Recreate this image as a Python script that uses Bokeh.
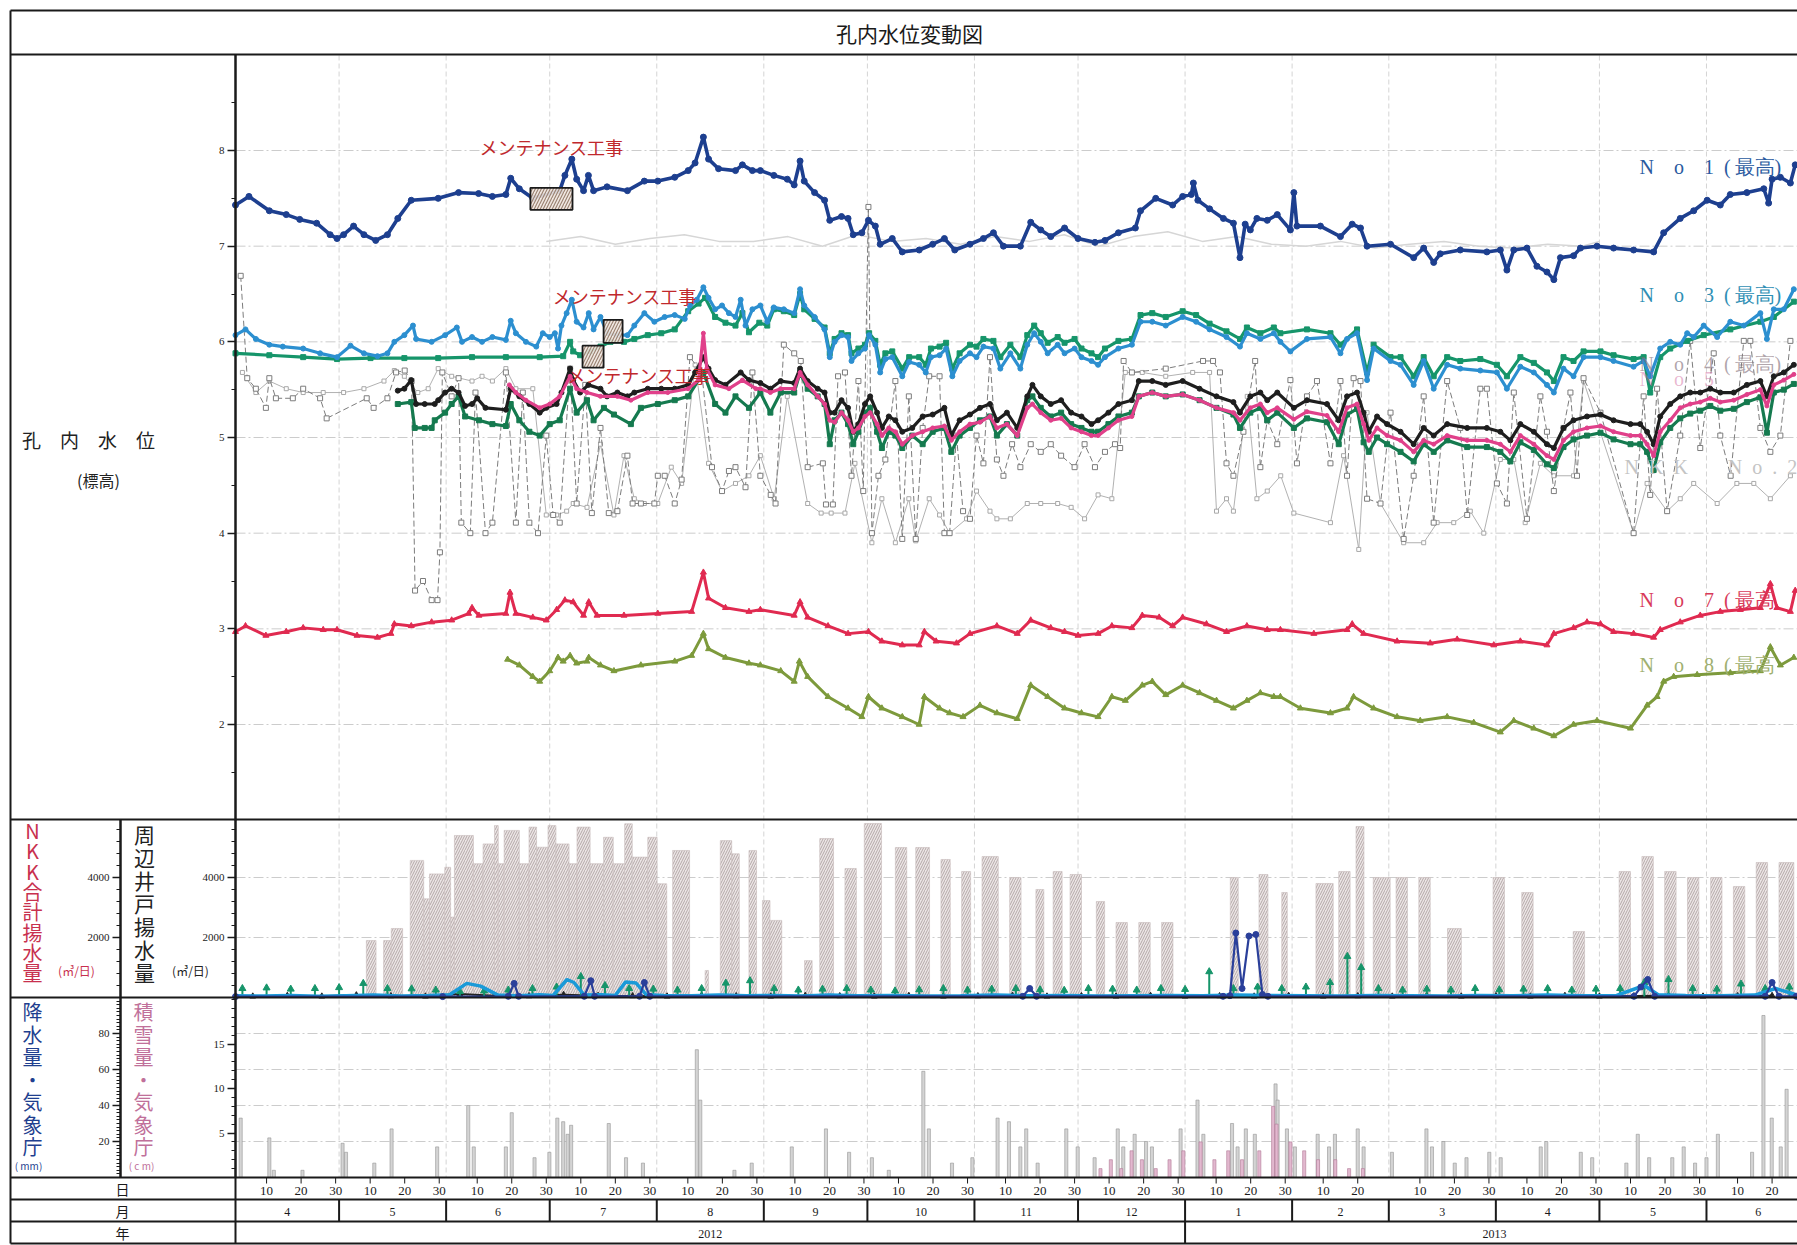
from bokeh.plotting import figure
from bokeh.models import Range1d, LinearAxis, FixedTicker
from bokeh.embed import file_html
from bokeh.resources import INLINE
from bokeh.core.properties import value

# ------------------------------------------------------------------ data
# x = days since 2012-04-01
MONTHS = [4, 5, 6, 7, 8, 9, 10, 11, 12, 1, 2, 3, 4, 5, 6]
MONTH_DAYS = [30, 31, 30, 31, 31, 30, 31, 30, 31, 31, 28, 31, 30, 31, 30]
YEAR_LABELS = ["2012", "2013"]
YEAR_POS = [137.5, 364.6]
DAY_TICKS = [10, 20, 30]

NO1 = [(0,7.43),(3.9,7.52),(9.8,7.37),(14.7,7.33),(18.6,7.28),(23.5,7.24),(27.4,7.12),(29.4,7.08),(31.3,7.12),(34.2,7.21),
       (37.2,7.12),(40.6,7.06),(44,7.12),(47,7.29),(50.9,7.48),(58.7,7.5),(64.6,7.56),(70.4,7.55),(74.4,7.52),(78.3,7.54),
       (79.7,7.71),(82.2,7.6),(86.1,7.5),(93.9,7.58),(95.4,7.74),(97.4,7.91),(98.8,7.7),(100.8,7.58),(102.2,7.74),(103.7,7.58),
       (107.6,7.62),(113.5,7.58),(118.4,7.68),(122.3,7.68),(127.2,7.72),(131.1,7.79),(133.1,7.87),(135.5,8.14),(137,7.91),(139.9,7.81),
       (144.8,7.79),(146.8,7.85),(149.7,7.79),(152,7.79),(155.9,7.74),(159.8,7.7),(161.8,7.64),(163.5,7.89),(164.7,7.68),(167.7,7.56),
       (170.6,7.48),(172.1,7.27),(175.5,7.31),(177.4,7.29),(178.9,7.12),(181.4,7.14),(183.3,7.27),(185.3,7.21),(186.7,7.02),(190.2,7.08),
       (193.1,6.94),(198,6.96),(201.9,7.02),(205.3,7.08),(208.3,6.96),(212.7,7.02),(216.6,7.08),(219.5,7.14),(222.4,7.0),(227.3,7.0),
       (230.3,7.25),(233.2,7.17),(236.1,7.1),(240.1,7.19),(244,7.08),(248.9,7.04),(251.8,7.06),(255.7,7.14),(260.6,7.19),(262.1,7.37),
       (266.5,7.5),(271.4,7.43),(274.3,7.52),(276.8,7.54),(277.4,7.66),(278.7,7.48),(282.1,7.39),(286.1,7.29),(289,7.24),(290.9,6.88),
       (292.4,7.23),(293.9,7.17),(295.8,7.29),(298.8,7.27),(301.7,7.33),(305.5,7.17),(306.5,7.56),(307.4,7.21),(314.2,7.21),(320,7.1),
       (323.4,7.23),(325.8,7.19),(327.7,7.0),(334.5,7.02),(341.2,6.88),(344.1,6.98),(347,6.83),(348.9,6.92),(354.7,6.96),(362.4,6.94),
       (366.3,6.96),(368.2,6.75),(370.2,6.96),(374,6.98),(376.9,6.79),(379.8,6.73),(381.8,6.65),(383.7,6.88),(387.5,6.9),(389.5,6.98),
       (394.3,7.0),(399.1,6.98),(404.9,6.96),(410.7,6.94),(413.6,7.14),(418.4,7.29),(422.3,7.37),(426.2,7.48),(430,7.43),(432.9,7.54),
       (437.7,7.56),(442.6,7.6),(444,7.45),(445,7.7),(447.4,7.72),(450.3,7.66),(451.7,7.85)]

NO3 = [(0,6.07),(2.9,6.13),(5.9,6.03),(9.8,5.97),(13.7,5.95),(19.6,5.93),(24.5,5.88),(29.4,5.84),(33.3,5.96),(37.2,5.88),
       (41.1,5.85),(44,5.88),(46,6.0),(48.9,6.07),(51.4,6.17),(52.3,6.03),(56.8,6.0),(60.7,6.07),(64.1,6.15),(65.6,6.0),
       (68.5,6.05),(71.4,6.0),(74.4,6.05),(78.3,6.02),(79.7,6.22),(81.2,6.09),(84.1,6.0),(87.1,5.95),(89,6.09),(91,6.05),
       (92.5,6.09),(93.4,5.93),(94.4,6.17),(95.9,6.3),(97.4,6.44),(98.8,6.21),(100.8,6.15),(102.3,6.3),(103.7,6.13),(105.7,6.26),
       (107.6,6.09),(110.6,6.07),(113.5,6.07),(115.5,6.17),(118.4,6.3),(121.3,6.21),(124.3,6.26),(127.2,6.28),(130.1,6.24),(131.6,6.38),
       (133.6,6.44),(135.5,6.57),(137,6.46),(138.9,6.34),(140.9,6.38),(142.9,6.3),(144.8,6.26),(146.3,6.44),(147.7,6.17),(149.7,6.34),
       (152,6.38),(154,6.21),(155.9,6.36),(158.8,6.34),(161.8,6.3),(163.5,6.55),(164.7,6.38),(167.7,6.26),(170.6,6.13),(172.1,5.84),
       (173.5,6.0),(175.5,6.07),(177.4,6.05),(178.4,5.8),(180.4,5.88),(182.3,5.93),(183.5,6.07),(185.3,5.97),(186.7,5.68),(188.2,5.82),
       (190.2,5.84),(193.1,5.64),(195.1,5.79),(198,5.76),(199.9,5.68),(201.4,5.84),(203.9,5.86),(205.8,5.93),(207.6,5.64),(209.7,5.8),
       (212.7,5.88),(214.6,5.84),(216.6,5.95),(219.5,5.93),(221.5,5.72),(224.4,5.88),(227.3,5.72),(229.3,5.97),(231.3,6.09),(233.2,6.0),
       (235.2,5.88),(238.1,5.97),(240.1,5.88),(243,5.93),(245,5.84),(247.9,5.8),(249.8,5.76),(251.8,5.84),(255.7,5.93),(259.6,5.97),
       (262.1,6.21),(265.5,6.21),(269.4,6.17),(274.3,6.26),(278.2,6.21),(282.1,6.13),(287,6.05),(290.9,5.95),(292.9,6.09),(296.8,6.03),
       (300.7,6.09),(302.6,6.0),(305.5,5.9),(310.3,6.03),(317.1,6.05),(320,5.88),(321.9,6.03),(324.8,6.09),(327.7,5.6),(329.6,5.93),
       (334.5,5.8),(337.4,5.76),(341.2,5.55),(344.1,5.8),(347,5.51),(350.9,5.76),(354.7,5.72),(360.5,5.7),(365.3,5.68),(368.2,5.51),
       (372.1,5.74),(376,5.68),(379.8,5.55),(381.8,5.47),(384.6,5.72),(387.5,5.64),(390.4,5.84),(395.3,5.84),(399.1,5.8),(404.9,5.74),
       (407.8,5.8),(409.7,5.64),(412.6,5.93),(415.5,6.0),(418.4,5.97),(420.4,6.09),(422.3,6.05),(425.2,6.17),(429.1,6.05),(432.9,6.21),
       (436.8,6.17),(441.6,6.3),(443.5,6.03),(445.5,6.34),(448.4,6.34),(451.3,6.55)]

NO2 = [(0,5.88),(9.8,5.86),(19.6,5.84),(29.4,5.82),(39.1,5.83),(48.9,5.83),(58.7,5.83),(68.5,5.84),(78.3,5.84),(88.1,5.84),
       (94.9,5.85),(96.9,6.0),(97.8,5.9),(99.8,5.86),(102.7,5.9),(105.7,5.95),(108.6,6.0),(112.5,6.0),(115.5,6.03),(119.4,6.07),
       (123.3,6.09),(127.2,6.13),(131.1,6.32),(134.1,6.4),(136,6.46),(138.9,6.26),(141.9,6.2),(144.8,6.17),(146.8,6.3),(148.7,6.1),
       (151.7,6.2),(154,6.17),(155.9,6.34),(158.8,6.32),(161.8,6.28),(163.5,6.5),(164.7,6.34),(167.7,6.24),(170.6,6.15),(172.1,5.88),
       (173.5,6.03),(175.5,6.09),(177.4,6.07),(178.4,5.88),(180.4,5.93),(182.3,5.97),(183.5,6.09),(185.3,6.01),(186.7,5.76),(188.2,5.88),
       (190.2,5.9),(193.1,5.72),(195.1,5.84),(198,5.84),(199.9,5.76),(201.4,5.93),(203.9,5.95),(205.8,5.99),(207.6,5.72),(209.7,5.88),
       (212.7,5.97),(214.6,5.95),(216.6,6.03),(219.5,6.01),(221.5,5.84),(224.4,5.97),(227.3,5.84),(229.3,6.07),(231.3,6.17),(233.2,6.09),
       (235.2,5.99),(238.1,6.05),(240.1,5.99),(243,6.03),(245,5.93),(247.9,5.88),(249.8,5.84),(251.8,5.93),(255.7,6.01),(259.6,6.03),
       (262.1,6.28),(265.5,6.3),(269.4,6.26),(274.3,6.32),(278.2,6.28),(282.1,6.19),(287,6.11),(290.9,6.03),(292.9,6.15),(296.8,6.09),
       (300.7,6.15),(302.6,6.09),(310.3,6.13),(317.1,6.09),(320,5.97),(324.8,6.13),(327.7,5.68),(329.6,5.97),(334.5,5.84),(337.4,5.84),
       (341.2,5.64),(344.1,5.84),(347,5.64),(350.9,5.84),(354.7,5.8),(360.5,5.82),(365.3,5.76),(368.2,5.64),(372.1,5.84),(376,5.78),
       (379.8,5.68),(381.8,5.59),(384.6,5.84),(387.5,5.8),(390.4,5.9),(395.3,5.9),(399.1,5.86),(404.9,5.82),(407.8,5.84),(409.7,5.47),
       (412.6,5.84),(415.5,5.93),(420.4,6.01),(425.2,6.07),(432.9,6.13),(441.6,6.21),(445.5,6.26),(451.3,6.42)]

NO4 = [(47,5.49),(48.9,5.51),(50.9,5.6),(52.3,5.35),(54.8,5.35),(57.7,5.35),(58.7,5.39),(60.7,5.47),(62.6,5.51),(64.6,5.47),
       (66.5,5.33),(68.5,5.35),(70,5.41),(72.4,5.31),(78.3,5.29),(79.7,5.51),(82.2,5.43),(85.1,5.35),(88.1,5.26),(90,5.31),
       (93,5.35),(94.4,5.47),(96.9,5.72),(97.8,5.6),(99.8,5.47),(102.2,5.55),(105.7,5.51),(107.6,5.43),(110.6,5.47),(113.5,5.43),
       (115.5,5.47),(119.4,5.51),(123.3,5.51),(127.2,5.51),(131.1,5.55),(133.1,5.68),(135.5,5.84),(137,5.72),(138.9,5.6),(141.9,5.55),
       (146.3,5.68),(148.7,5.6),(152,5.57),(154.9,5.51),(157.9,5.59),(161.8,5.57),(163.5,5.72),(165.7,5.59),(168.6,5.51),(170.6,5.47),
       (172.1,5.26),(173.5,5.26),(175.5,5.39),(177.4,5.31),(178.9,5.06),(180.4,5.14),(182.3,5.35),(183.8,5.43),(185.8,5.26),(187.2,5.1),
       (189.2,5.22),(191.1,5.18),(193.1,5.06),(196,5.1),(199,5.22),(201.9,5.24),(205.3,5.31),(207.3,5.02),(209.7,5.18),(212.7,5.24),
       (215.6,5.31),(218.5,5.35),(220.5,5.18),(223.4,5.26),(226.4,5.1),(229.3,5.43),(230.8,5.55),(233.2,5.43),(236.1,5.35),(239.1,5.39),
       (242,5.26),(245,5.22),(247.9,5.14),(249.8,5.18),(252.8,5.26),(255.7,5.35),(259.6,5.39),(261.6,5.59),(265.5,5.59),(269.4,5.55),
       (274.3,5.59),(279.2,5.51),(284.1,5.43),(289,5.37),(290.9,5.26),(293.9,5.43),(296.8,5.47),(298.8,5.39),(301.7,5.47),(306.5,5.31),
       (310.3,5.39),(316.1,5.35),(319.5,5.18),(321.9,5.43),(324.8,5.47),(326.7,5.26),(328.2,5.06),(330.6,5.22),(333.5,5.14),(337.4,5.06),
       (341.2,4.93),(344.1,5.1),(347,5.02),(350.9,5.14),(356.7,5.1),(362.4,5.1),(366.3,5.06),(369.2,4.97),(372.1,5.14),(376,5.06),
       (379.8,4.93),(381.8,4.89),(384.6,5.1),(387.5,5.18),(391.4,5.22),(395.3,5.24),(399.1,5.18),(404,5.14),(406.8,5.14),(408.8,5.06),
       (410.7,4.93),(412.6,5.22),(415.5,5.35),(418.4,5.43),(421.3,5.47),(424.2,5.47),(427.1,5.51),(430,5.47),(433.9,5.47),(437.7,5.55),
       (441.6,5.59),(443.5,5.43),(445.5,5.64),(448.4,5.68),(451.3,5.76)]

NO5 = [(79.3,5.55),(81.2,5.47),(84.1,5.39),(88.1,5.31),(91,5.35),(93.9,5.43),(96.9,5.64),(98.8,5.51),(101.8,5.47),(105.7,5.43),
       (110.6,5.43),(114.5,5.39),(119.4,5.47),(125.2,5.47),(131.1,5.51),(134.1,5.6),(135.5,6.09),(136.5,5.72),(138.9,5.55),(142.9,5.51),
       (146.8,5.6),(150.7,5.51),(152,5.51),(154.9,5.47),(157.9,5.51),(161.8,5.51),(163.5,5.68),(165.7,5.55),(168.6,5.43),(170.6,5.35),
       (172.1,5.18),(173.5,5.16),(175.5,5.26),(177.4,5.18),(178.9,5.06),(180.4,5.1),(182.3,5.22),(183.8,5.26),(185.8,5.14),(187.2,5.02),
       (189.2,5.1),(191.1,5.06),(193.1,4.93),(196,5.02),(199,5.06),(201.9,5.1),(205.3,5.12),(207.3,4.97),(209.7,5.06),(212.7,5.14),
       (215.6,5.16),(218.5,5.22),(220.5,5.1),(223.4,5.14),(226.4,5.02),(229.3,5.31),(230.8,5.35),(233.2,5.26),(236.1,5.18),(239.1,5.2),
       (242,5.1),(245,5.06),(247.9,5.02),(249.8,5.02),(252.8,5.1),(255.7,5.18),(259.6,5.22),(261.6,5.43),(265.5,5.47),(269.4,5.43),
       (274.3,5.45),(279.2,5.39),(284.1,5.31),(289,5.26),(290.9,5.18),(293.9,5.31),(296.8,5.35),(298.8,5.26),(301.7,5.31),(306.5,5.19),
       (310.3,5.27),(316.1,5.23),(319.5,5.06),(321.9,5.31),(324.8,5.35),(326.7,5.14),(328.2,4.97),(330.6,5.1),(333.5,5.02),(337.4,4.97),
       (341.2,4.85),(344.1,4.97),(347,4.93),(350.9,5.02),(356.7,4.97),(362.4,4.97),(366.3,4.93),(369.2,4.85),(372.1,5.02),(376,4.93),
       (379.8,4.81),(381.8,4.77),(384.6,4.97),(387.5,5.06),(391.4,5.1),(395.3,5.12),(399.1,5.06),(404,5.02),(406.8,5.02),(408.8,4.93),
       (410.7,4.81),(412.6,5.06),(415.5,5.18),(418.4,5.31),(421.3,5.35),(424.2,5.37),(427.1,5.41),(430,5.37),(433.9,5.39),(437.7,5.45),
       (441.6,5.5),(443.5,5.33),(445.5,5.55),(448.4,5.6),(451.3,5.66)]

NO6 = [(47,5.35),(50.9,5.37),(51.9,5.1),(54.8,5.1),(56.8,5.1),(57.7,5.18),(60.7,5.26),(62.6,5.35),(64.6,5.43),(66.5,5.22),
       (70.5,5.18),(74.4,5.14),(78.3,5.12),(79.7,5.35),(82.2,5.18),(85.1,5.06),(88.1,5.02),(91,5.14),(93.9,5.18),(96.9,5.51),
       (98.8,5.26),(101.8,5.39),(103.7,5.18),(106.7,5.31),(109.6,5.24),(114.5,5.14),(117.4,5.31),(122.3,5.35),(127.2,5.39),(131.1,5.43),
       (135.5,5.68),(138.9,5.35),(141.9,5.26),(144.8,5.43),(148.7,5.31),(152,5.47),(154.9,5.26),(157.9,5.47),(161.8,5.47),(163.5,5.68),
       (165.7,5.51),(168.6,5.43),(170.6,5.35),(172.1,4.93),(173.5,5.18),(175.5,5.26),(177.4,5.14),(178.9,4.93),(180.4,5.06),(182.3,5.26),
       (183.8,5.31),(185.8,5.06),(187.2,4.89),(189.2,5.06),(191.1,5.02),(193.1,4.89),(196,5.02),(199,4.93),(201.9,5.06),(205.3,5.1),
       (207.3,4.85),(209.7,5.02),(212.7,5.1),(215.6,5.18),(218.5,5.22),(220.5,5.02),(223.4,5.14),(226.4,5.02),(229.3,5.39),(230.8,5.43),
       (233.2,5.31),(236.1,5.22),(239.1,5.26),(242,5.14),(245,5.1),(247.9,5.06),(249.8,5.06),(252.8,5.14),(255.7,5.22),(259.6,5.26),
       (261.6,5.43),(265.5,5.47),(269.4,5.43),(274.3,5.45),(279.2,5.39),(284.1,5.31),(289,5.24),(290.9,5.1),(293.9,5.26),(296.8,5.31),
       (298.8,5.18),(301.7,5.26),(306.5,5.1),(310.3,5.2),(316.1,5.16),(319.5,4.93),(321.9,5.24),(324.8,5.3),(326.7,4.95),(328.2,4.85),
       (330.6,5.0),(333.5,4.93),(337.4,4.85),(341.2,4.75),(344.1,4.93),(347,4.85),(350.9,4.97),(356.7,4.9),(362.4,4.9),(366.3,4.85),
       (369.2,4.75),(372.1,4.95),(376,4.87),(379.8,4.72),(381.8,4.68),(384.6,4.9),(387.5,4.98),(391.4,5.02),(395.3,5.05),(399.1,4.98),
       (404,4.93),(406.8,4.93),(408.8,4.85),(410.7,4.66),(412.6,4.95),(415.5,5.1),(418.4,5.2),(421.3,5.25),(424.2,5.28),(427.1,5.33),
       (430,5.28),(433.9,5.3),(437.7,5.37),(441.6,5.42),(443.5,5.05),(445.5,5.47),(448.4,5.5),(451.3,5.56)]

NO7 = [(0,2.97),(2.9,3.03),(8.8,2.93),(14.7,2.97),(19.6,3.01),(25.4,2.99),(29.4,2.99),(35.2,2.93),(41.1,2.91),(45,2.95),
       (46,3.05),(50.9,3.03),(56.8,3.07),(62.6,3.09),(67.5,3.16),(68.5,3.22),(70.5,3.14),(78.3,3.16),(79.5,3.38),(81.2,3.16),
       (86.1,3.12),(90,3.09),(93,3.2),(95.4,3.3),(97.8,3.28),(100.8,3.14),(102.3,3.28),(104.7,3.14),(112.5,3.14),(122.3,3.16),
       (132.1,3.18),(135.5,3.59),(137,3.32),(141.9,3.22),(148.7,3.18),(152,3.2),(161.8,3.14),(163.5,3.28),(165.7,3.12),(171.6,3.03),
       (177.4,2.95),(183.3,2.97),(187.2,2.87),(193.1,2.83),(198,2.83),(199.5,2.97),(202.9,2.87),(208.8,2.85),(212.7,2.95),(220.5,3.03),
       (226.4,2.95),(230.3,3.09),(236.1,3.01),(240.1,2.97),(244,2.93),(249.8,2.95),(253.8,3.03),(259.6,3.01),(262.6,3.14),(267.5,3.12),
       (271.4,3.03),(274.3,3.12),(281.2,3.05),(287,2.97),(292.9,3.03),(298.8,2.99),(302.6,2.99),(312.3,2.95),(321.9,2.99),(323.4,3.05),
       (326.7,2.95),(336.4,2.87),(346,2.85),(353.8,2.89),(364.4,2.83),(372.1,2.87),(379.8,2.83),(381.8,2.95),(387.5,3.01),(391.4,3.07),
       (395.3,3.05),(399.1,2.97),(404.9,2.95),(410.7,2.91),(412.6,2.99),(418.4,3.07),(424.2,3.14),(430,3.18),(435.8,3.2),(441.6,3.22),
       (444.5,3.47),(446.4,3.22),(450.3,3.18),(451.7,3.4)]

NO8 = [(78.8,2.68),(82.2,2.62),(86.1,2.5),(88.1,2.45),(91,2.56),(93.4,2.7),(94.9,2.66),(96.9,2.72),(98.8,2.64),(101.8,2.66),
       (102.3,2.7),(105.7,2.62),(109.6,2.56),(117.4,2.62),(127.2,2.66),(132.1,2.72),(135.5,2.95),(137,2.79),(141.9,2.7),(148.7,2.64),
       (152,2.62),(157.9,2.56),(161.8,2.45),(163.3,2.66),(165.7,2.5),(171.6,2.29),(177.4,2.17),(181.4,2.08),(183.3,2.29),(187.2,2.17),
       (193.1,2.08),(198,2.0),(199.5,2.29),(203.9,2.17),(206.8,2.12),(210.7,2.08),(215.6,2.2),(220.5,2.12),(226.4,2.06),(230.3,2.41),
       (235.2,2.29),(240.1,2.17),(245,2.12),(249.8,2.08),(253.8,2.29),(257.7,2.25),(262.6,2.41),(265.5,2.45),(269.4,2.31),(274.3,2.41),
       (279.2,2.33),(284.1,2.25),(289,2.17),(292.9,2.25),(296.8,2.33),(300.7,2.29),(302.6,2.29),(308.4,2.17),(317.1,2.12),(321.9,2.17),
       (323.8,2.29),(329.6,2.17),(336.4,2.08),(343.1,2.04),(350.9,2.08),(358.6,2.02),(366.3,1.92),(370.2,2.04),(376,1.96),(381.8,1.88),
       (387.5,2.0),(394.3,2.04),(404,1.96),(408.8,2.2),(411.7,2.29),(413.6,2.45),(416.5,2.5),(423.3,2.52),(432.9,2.54),(441.6,2.56),
       (444.5,2.81),(447.4,2.62),(451.3,2.7)]

NKK1 = [(1.5,6.69),(3.4,5.62),(5.9,5.51),(8.8,5.31),(9.8,5.62),(11.7,5.41),(16.6,5.41),(19.6,5.51),(24.5,5.41),(26.4,5.2),
        (38,5.41),(40,5.31),(44,5.41),(46.5,5.68),(49,5.7),(51,5.59),(52,3.4),(54.3,3.5),(56.8,3.3),(58.5,3.3),
        (59.2,3.8),(59.9,5.68),(62.6,5.43),(64.6,5.62),(65.4,4.11),(68,4.0),(69.5,5.47),(72.4,4.0),(74.4,4.11),(78.3,5.68),
        (81.2,4.11),(83.2,5.47),(85.1,4.11),(87.6,4.0),(90,5.02),(92,4.19),(93.9,4.11),(96.9,5.72),(98.8,4.31),(101.3,5.55),
        (103.2,4.21),(105.7,5.1),(108.1,4.21),(110.6,4.23),(113.5,4.81),(115,4.31),(117.4,4.31),(121.3,4.31),(122.3,4.6),(124.3,4.6),
        (127.2,4.31),(129.2,4.56),(131.6,5.84),(135,5.68),(138,4.69),(140.9,4.44),(142.9,4.65),(144.8,4.69),(147.7,4.48),(149.7,5.68),
        (152,4.6),(155,4.4),(156.4,4.31),(158.8,5.97),(161.8,5.88),(163.7,5.8),(165.7,4.69),(170.1,4.73),(171,4.3),(173,4.3),
        (174.5,5.64),(176.5,5.68),(178.4,4.6),(180.4,5.59),(181.8,4.44),(183.3,7.41),(184.3,4.0),(186.2,4.6),(188.2,4.77),(191.1,5.59),
        (193.1,3.94),(195,5.43),(197,3.94),(199,5.1),(200.9,5.64),(203.9,5.64),(205.3,4.0),(206.8,4.0),(208.8,5.02),(210.7,4.23),
        (212.7,4.15),(214.6,5.02),(216.6,4.73),(218.5,5.84),(220.5,4.77),(222.4,4.6),(224.9,4.93),(227.3,4.69),(230.3,4.93),(233.2,4.85),
        (236.1,4.93),(239.1,4.81),(243,4.69),(245.9,4.93),(248.9,4.69),(251.8,4.85),(254.7,4.93),(256.2,4.89),(257.2,5.8),(259.6,5.68),
        (269.4,5.72),(280.2,5.8),(283.1,5.8),(285.1,5.68),(287,4.73),(289,4.6),(291.9,5.06),(295.3,5.8),(296.8,4.69),(298.8,5.18),
        (301.7,4.93),(305.5,5.6),(307.4,4.73),(310.3,5.43),(313.2,5.59),(317.1,4.73),(320,5.59),(321.9,4.6),(323.8,5.62),(325.8,5.59),
        (327.7,4.36),(331.6,4.31),(334.5,5.26),(338.3,3.94),(341.2,4.6),(344.1,5.43),(347,4.11),(350.9,5.59),(354.7,5.1),(356.7,4.19),
        (360.5,5.51),(362.4,5.51),(365.3,4.52),(368.2,4.31),(370.2,5.47),(374,4.15),(377.9,5.43),(379.8,5.06),(381.8,4.44),(384.6,5.1),
        (386.6,5.47),(388.5,4.6),(390.4,5.62),(395.3,5.26),(404.9,4.0),(407.8,5.43),(409.7,4.4),(411.7,5.51),(414.6,4.23),(418.4,5.02),
        (421.3,6.01),(424.2,4.89),(428.1,5.88),(430,5.02),(433,4.6),(436.8,6.01),(438.7,6.01),(441.6,5.1),(444.5,4.85),(447.4,5.02),
        (450.3,6.01)]

NKK2 = [(2,5.68),(5.9,5.47),(9.8,5.59),(14.7,5.51),(19.6,5.47),(25.4,5.47),(31.3,5.47),(37.2,5.51),(43,5.59),(46,5.7),
        (48.9,5.64),(52.8,5.47),(55.8,5.51),(58.7,5.72),(62.6,5.64),(68.5,5.59),(71.4,5.64),(74.4,5.59),(78.3,5.72),(81.2,5.51),
        (86.1,5.51),(90,4.19),(93,4.19),(95.9,4.23),(97.8,4.31),(101.8,4.27),(105.7,4.93),(109.6,4.19),(112.5,4.81),(115.5,4.36),
        (118.4,4.31),(122.3,4.31),(126.2,4.69),(129.2,4.52),(133.1,5.76),(137,4.73),(140.9,4.44),(144.8,4.52),(148.7,4.6),(152,4.81),
        (156,4.36),(159.8,5.43),(165.7,4.31),(169.6,4.21),(172.5,4.21),(176.5,4.21),(179.4,4.73),(184.3,3.9),(187.2,4.36),(191.1,3.9),
        (195,4.36),(197,3.92),(200.9,4.36),(203.9,4.19),(206.8,4.0),(211.7,4.15),(214.6,4.44),(218.5,4.23),(220.5,4.15),(224.4,4.15),
        (229.3,4.31),(233.2,4.31),(238.1,4.31),(242,4.27),(245.9,4.15),(249.8,4.4),(253.8,4.36),(257.7,5.68),(262.6,5.68),(269.4,5.64),
        (277.2,5.68),(282.1,5.68),(284.1,4.23),(287,4.36),(289,4.23),(293,5.43),(295.8,4.36),(298.8,4.44),(302.7,4.6),(306.5,4.21),
        (317.1,4.11),(320.9,4.81),(325.3,3.83),(327.7,5.26),(331.6,4.31),(338.3,3.9),(344.1,3.9),(348,4.11),(352.8,4.11),(357.6,4.23),
        (361.5,4.0),(366.3,4.77),(370.2,4.77),(373.5,4.11),(377.9,4.73),(381.8,4.6),(387.5,4.6),(390.4,5.59),(404.9,4.0),(408.8,4.52),
        (414.6,4.23),(418.4,4.36),(422.3,4.52),(429.1,4.31),(434.8,4.52),(439.7,4.52),(444.5,4.36),(450.3,4.6)]

FAINT = [(90,7.05),(100,7.1),(110,7.02),(120,7.08),(130,7.12),(140,7.05),(150,7.05),(160,7.1),(170,7.0),(180,7.12),
         (190,7.05),(200,7.08),(210,7.02),(220,7.1),(230,7.05),(240,7.12),(250,7.0),(260,7.1),(270,7.15),(280,7.05),
         (290,7.1),(300,7.02),(310,7.0),(320,7.05),(330,6.98),(340,7.02),(350,7.05),(360,7.0),(370,6.98),(380,7.02),
         (390,7.0),(395,7.05)]

# surrounding wells pumping (m3/day) as blocks: (first day, last day, value)
WELLS = [(37.9,40.7,1900),(42.9,45.1,1900),(45.1,48.4,2300),(50.6,54.5,4570),(54.5,56.2,3290),(56.2,60.6,4120),(60.6,62.3,4340),
         (62.3,63.4,2680),(63.4,68.9,5400),(68.9,71.7,4460),(71.7,75,5120),(75,76.1,5730),(76.1,77.8,4460),(77.8,82.2,5570),
         (82.2,85,4460),(85,87.2,5680),(87.2,90.5,5010),(90.5,92.8,5730),(92.8,96.6,5120),(96.6,98.9,4460),(98.9,102.7,5680),
         (102.7,106.6,4460),(106.6,109.4,5340),(109.4,112.7,4460),(112.7,114.9,5790),(114.9,119.4,4680),(119.4,122.1,5340),
         (122.1,124.9,3790),(126.6,131.5,4900),(136,137,900),(140.4,143.7,5230),(143.7,145.9,4790),(148.7,150.9,4900),
         (152.6,154.8,3230),(154.8,158.2,2570),(164.8,167,1230),(169.2,173.2,5300),(176.5,179.8,4300),(182.1,187.1,5800),
         (191.1,194.4,5000),(197,201,5000),(204.3,207,4600),(210.3,212.9,4200),(216.2,220.9,4700),(224.2,227.5,4000),
         (231.8,234.1,3600),(236.8,239.4,4200),(241.7,245,4100),(249.3,251.7,3200),(255,258.3,2500),(261.6,264.9,2500),
         (268.2,271.5,2500),(288.1,290.4,4000),(296.4,299,4100),(303,304.6,3500),(312.9,317.9,3800),(319.5,322.8,4200),
         (324.5,326.8,5700),(329.5,334.4,4000),(336.1,339.4,4000),(342.7,346,4000),(351,355,2300),(364.2,367.5,4000),
         (372.5,375.8,3500),(387.4,390.7,2200),(400.7,404,4200),(407.3,410.6,4700),(413.9,417.2,4200),(420.5,423.8,4000),
         (427.2,430.5,4000),(433.8,437.1,3700),(440.4,443.7,4500),(447,451.3,4500)]

# NKK total pumping (m3/day)
NKK_BLUE = [(0,60),(8,50),(16,70),(24,40),(32,60),(40,80),(48,50),(56,70),(62,90),(67,470),(71,380),(76,80),(82,60),(88,90),
            (92,70),(96,600),(98,500),(101,80),(106,90),(110,70),(113,520),(116,480),(119,90),(124,70),(132,60),(140,80),
            (148,60),(156,70),(164,50),(172,80),(180,60),(190,70),(200,50),(210,60),(220,80),(230,60),(240,70),(250,50),
            (260,60),(270,70),(280,60),(290,80),(300,70),(310,60),(320,50),(330,70),(340,60),(350,50),(360,70),(370,60),
            (380,80),(390,60),(400,70),(408,400),(412,90),(420,70),(430,60),(440,80),(446,300),(452,90)]
NKK_GREEN = [(2,300),(9,320),(16,280),(23,300),(30,330),(37,470),(44,300),(51,290),(58,250),(65,200),(72,220),(79,250),
             (86,300),(93,350),(100,700),(107,400),(114,300),(121,280),(128,250),(135,300),(142,480),(149,560),(156,300),
             (163,250),(170,280),(177,300),(184,250),(191,220),(198,260),(205,300),(212,250),(219,280),(226,300),(233,260),
             (240,240),(247,300),(254,280),(261,250),(268,300),(275,270),(282,860),(289,300),(296,350),(303,300),(310,350),
             (317,500),(322,1370),(326,1000),(331,300),(338,250),(345,280),(352,250),(359,300),(366,260),(373,280),(380,300),
             (387,250),(394,280),(401,300),(408,500),(415,600),(422,300),(429,280),(436,450),(443,300),(450,350)]
NKK_NAVY = [(0,30),(60,30),(79,40),(80.7,470),(82,40),(101,40),(102.9,560),(104,40),(117,40),(118.4,500),(120,40),
            (228,40),(230,300),(232,40),(286,40),(288,60),(289.7,2150),(291.5,300),(293.5,2050),(295.5,2100),(297.4,100),
            (299,40),(405,40),(407,350),(409,600),(411,40),(443,40),(445,500),(447,40),(452,40)]
NKK_BLACK = [(5,40),(15,60),(25,40),(35,80),(45,50),(55,40),(65,120),(75,60),(85,50),(95,90),(105,60),(115,50),(125,40),
             (135,70),(145,50),(155,40),(165,60),(175,50),(185,40),(195,60),(205,40),(215,50),(225,60),(235,40),(245,50),
             (255,40),(265,60),(275,40),(285,50),(295,40),(305,60),(315,40),(325,50),(335,40),(345,60),(355,40),(365,50),
             (375,40),(385,60),(395,40),(405,50),(415,60),(425,40),(435,50),(445,60)]

# precipitation (mm) and snow depth (cm)
RAIN = [(1,33),(9.3,22),(10.6,4),(18.9,4),(30.5,19),(31.5,14),(39.7,8),(44.7,27),(57.9,17),(66.9,40),(68.5,17),(77.8,17),
        (79.5,36),(86.1,11),(90.4,14),(92.7,33),(94.4,31),(95.7,24),(96.7,29),(107.6,30),(112.6,11),(117.5,8),(133.1,71),
        (134.1,43),(144,4),(149,8),(160.6,17),(170.5,27),(177.2,14),(183.8,11),(188.7,4),(198.7,59),(200.3,27),(207,8),
        (212.9,11),(220.2,33),(223.5,31),(226.8,17),(228.5,27),(231.8,8),(240.1,27),(243.4,17),(248.3,11),(255,27),
        (256.6,17),(259.9,24),(263.2,20),(264.9,17),(273.2,27),(278.1,43),(279.8,24),(288.1,30),(289.7,17),(292.1,27),
        (294.7,24),(300.7,52),(301.3,43),(304,27),(306.3,17),(312.9,24),(316.2,17),(317.9,24),(324.5,27),(326.2,17),
        (334.4,14),(344.4,27),(346,17),(349.3,20),(352.6,8),(356,11),(362.6,14),(365.9,11),(377.5,17),(379.1,20),
        (389.1,14),(392.4,11),(402.3,8),(405.6,24),(408.9,11),(415.6,11),(418.9,17),(422.2,8),(425.5,11),(428.8,24),
        (438.7,14),(442,90),(444.4,33),(447,17),(448.7,49)]
SNOW = [(250,1),(253,2),(256,1),(259,3),(262,2),(266,1),(270,2),(274,3),(279,4),(283,2),(287,3),(291,2),(296,3),
        (300,8),(301,6),(305,4),(309,3),(313,2),(318,2),(322,1),(326,1)]

# maintenance works (day range, level range)
MAINT_BOXES = [(85.4, 97.6, 7.38, 7.61), (106.6, 112.1, 5.99, 6.23), (100.5, 106.6, 5.73, 5.96)]
MAINT_TEXT = "メンテナンス工事"
MAINT_POS = [(91.5, 8.04), (112.7, 6.48), (116.9, 5.65)]

EM, EN, TH = "\u2003", "\u2002", "\u2009"
SERIES_LABELS = [("N" + EM + "o" + EM + "1" + EN + "(" + TH + "最高)", 7.83, "#2a5aa0", 1.0),
                 ("N" + EM + "o" + EM + "3" + EN + "(" + TH + "最高)", 6.49, "#2f8fb5", 1.0),
                 ("N" + EM + "o" + EM + "4" + EN + "(" + TH + "最高)", 5.77, "#7d6a74", 0.6),
                 ("N" + EM + "o" + EM + "5", 5.61, "#d0609a", 0.45),
                 ("N" + EM + "o" + EM + "7" + EN + "(" + TH + "最高", 3.30, "#d83a5a", 1.0),
                 ("N" + EM + "o" + EM + "8" + EN + "(" + TH + "最高", 2.62, "#a0b070", 1.0)]
NKK2_LABEL = "N" + EN + "K" + EN + "K" + EM + EM + "N" + EN + "o" + EN + "." + EN + "2"

# ------------------------------------------------------------------ figure
PX0, PXD = 235.0, 3.453          # layout: page x of day 0 and px per day
def dx(px):
    return (px - PX0) / PXD

def unzip(pairs):
    return [a for a, _ in pairs], [b for _, b in pairs]

p = figure(width=1797, height=1245, output_backend="svg", toolbar_location=None,
           x_range=Range1d(dx(0), dx(1797)), y_range=Range1d(1245, 0),
           x_axis_location=None, y_axis_location=None, min_border=0)
p.grid.visible = False
p.outline_line_color = None
p.background_fill_color = "white"
p.extra_y_ranges = {
    "main": Range1d(-3.446, 9.568),
    "pump": Range1d(-8266.7, 33233.0),
    "rain": Range1d(-37.78, 653.89),
    "snow": Range1d(-7.64, 132.25),
}
XR = dx(1797)
JP = value("Noto Sans CJK JP")
SERIF = value("Liberation Serif")

starts = []
acc = 0
for L in MONTH_DAYS:
    starts.append(acc)
    acc += L

# ---- grid lines
inner = [s for s in starts if s > 0]
p.segment(x0=inner, y0=[55] * len(inner), x1=inner, y1=[1177] * len(inner),
          line_color="#d4d4d4", line_width=1, line_dash="5 3")
lv = [2, 3, 4, 5, 6, 7, 8]
p.segment(x0=[0] * len(lv), y0=lv, x1=[XR] * len(lv), y1=lv, y_range_name="main",
          line_color="#cccccc", line_width=1, line_dash="10 3 2 3")
pv = [2000, 4000]
p.segment(x0=[0, 0], y0=pv, x1=[XR, XR], y1=pv, y_range_name="pump",
          line_color="#cccccc", line_width=1, line_dash="10 3 2 3")
rv = [20, 40, 60, 80]
p.segment(x0=[0] * 4, y0=rv, x1=[XR] * 4, y1=rv, y_range_name="rain",
          line_color="#cccccc", line_width=1, line_dash="10 3 2 3")

# ---- main panel series
def series(pairs, color, marker, lw, size, dash="solid", fill=None, alpha=1.0):
    xs, ys = unzip(pairs)
    p.line(xs, ys, y_range_name="main", line_color=color, line_width=lw, line_dash=dash, line_alpha=alpha)
    if marker:
        p.scatter(xs, ys, y_range_name="main", marker=marker, size=size, line_color=color,
                  fill_color=fill or color, line_width=1, alpha=alpha)

series(FAINT, "#d6d6d6", None, 1.5, 0)
series(NKK2, "#a8a8a8", "square", 0.9, 4, fill="white")
series(NKK1, "#7c7c7c", "square", 1.0, 5, dash="6 3", fill="white")
series(NO6, "#157a4f", "square", 3.2, 5)
series(NO4, "#1e1e1e", "circle", 3.2, 5)
series(NO5, "#e0408a", "circle", 3.2, 4)
series(NO2, "#16956a", "square", 3.2, 5)
series(NO3, "#2c8fd0", "circle", 3.2, 5)
series(NO1, "#1d3f8f", "circle", 3.6, 6)
series(NO7, "#e02a50", "triangle", 3, 6)
series(NO8, "#7d9a3c", "triangle", 3, 6)

# ---- maintenance annotations
bl, br, bb, bt = zip(*MAINT_BOXES)
p.quad(left=list(bl), right=list(br), bottom=list(bb), top=list(bt), y_range_name="main",
       fill_color="#efe6df", fill_alpha=0.9, hatch_pattern="/", hatch_color="#9c8474",
       hatch_scale=6, hatch_weight=1.2, line_color="#1a1a1a", line_width=1.8)
mx, my = unzip(MAINT_POS)
p.text(mx, my, text=[MAINT_TEXT] * 3, y_range_name="main", text_font=JP, text_font_size="18px",
       text_color="#c0282c", text_align="center", text_baseline="middle")

# ---- series labels at right
for txt, yv, col, al in SERIES_LABELS:
    p.text([dx(1639)], [yv], text=[txt], y_range_name="main", text_font=SERIF, text_font_size="20px",
           text_color=col, text_alpha=al, text_align="left", text_baseline="middle")
p.text([dx(1624)], [4.69], text=[NKK2_LABEL], y_range_name="main", text_font=SERIF,
       text_font_size="20px", text_color="#c4c4c4", text_align="left", text_baseline="middle")

# ---- pumping panel
wl, wr, wv = zip(*WELLS)
p.quad(left=list(wl), right=list(wr), bottom=0, top=list(wv), y_range_name="pump",
       fill_color="#ece6e6", fill_alpha=1.0, hatch_pattern="/", hatch_color="#b4a8a8",
       hatch_scale=5, hatch_weight=1, line_color="#cabebe", line_width=0.6)
bx, byv = unzip(NKK_BLACK)
p.line(bx, byv, y_range_name="pump", line_color="#222222", line_width=2)
p.scatter(bx, byv, y_range_name="pump", marker="triangle", size=6, color="#222222")
gx, gy = unzip(NKK_GREEN)
p.segment(x0=gx, y0=[0] * len(gx), x1=gx, y1=gy, y_range_name="pump", line_color="#16956a", line_width=2)
p.scatter(gx, gy, y_range_name="pump", marker="triangle", size=7, color="#16956a")
ux, uy = unzip(NKK_BLUE)
p.line(ux, uy, y_range_name="pump", line_color="#1a9ad8", line_width=3.5)
nx, ny = unzip(NKK_NAVY)
p.line(nx, ny, y_range_name="pump", line_color="#2a3f9a", line_width=2.2)
p.scatter(nx, ny, y_range_name="pump", marker="circle", size=6, color="#2a3f9a")

# ---- precipitation / snow panel
rx, ry = unzip(RAIN)
p.vbar(x=[d + 0.5 for d in rx], width=0.9, top=ry, bottom=0, y_range_name="rain",
       fill_color="#d4d4d4", line_color="#939393", line_width=0.6)
sx, sy = unzip(SNOW)
p.vbar(x=[d + 0.5 for d in sx], width=0.9, top=sy, bottom=0, y_range_name="snow",
       fill_color="#e2b8cf", line_color="#b07896", line_width=0.6)

# ---- table frame lines (page px on default range)
hy = [10, 54, 819, 997, 1177, 1199, 1221, 1243]
p.segment(x0=[dx(10)] * len(hy), y0=hy, x1=[XR] * len(hy), y1=hy, line_color="#1a1a1a", line_width=2)
p.segment(x0=[dx(10), 0, dx(120)], y0=[10, 54, 819], x1=[dx(10), 0, dx(120)], y1=[1243, 1243, 1177],
          line_color="#1a1a1a", line_width=2)
p.segment(x0=inner, y0=[1199] * len(inner), x1=inner, y1=[1221] * len(inner), line_color="#1a1a1a", line_width=2)
p.segment(x0=[starts[9]], y0=[1221], x1=[starts[9]], y1=[1243], line_color="#1a1a1a", line_width=2)

# ---- axes
def yaxis(rname, loc, ticks, minor, bounds):
    ax = LinearAxis(y_range_name=rname, fixed_location=loc, bounds=bounds,
                    ticker=FixedTicker(ticks=ticks, minor_ticks=minor))
    ax.axis_line_width = 2
    ax.axis_line_color = "#1a1a1a"
    ax.major_tick_out = 8
    ax.major_tick_in = 0
    ax.minor_tick_out = 4
    ax.minor_tick_in = 0
    ax.major_tick_line_width = 1.5
    ax.minor_tick_line_width = 1.2
    ax.major_tick_line_color = "#1a1a1a"
    ax.minor_tick_line_color = "#1a1a1a"
    ax.major_label_text_font = "Liberation Serif"
    ax.major_label_text_font_size = "11px"
    ax.major_label_text_color = "#222222"
    ax.major_label_standoff = 3
    p.add_layout(ax, "left")

yaxis("main", 0, [2, 3, 4, 5, 6, 7, 8], [1.5 + i for i in range(8)], (1, 9))
pump_minor = [400 * i for i in range(1, 15)]
yaxis("pump", dx(120), [2000, 4000], pump_minor, (0, 5930))
yaxis("pump", 0, [2000, 4000], pump_minor, (0, 5930))
yaxis("rain", dx(120), [20, 40, 60, 80], [2 * i for i in range(1, 50)], (0, 100))
yaxis("snow", 0, [5, 10, 15], [i for i in range(1, 21)], (0, 20.2))

# ---- time rows
day_x, day_t = [], []
for s, L in zip(starts, MONTH_DAYS):
    for d in DAY_TICKS:
        if d <= L and s + d - 1 <= XR - 3:
            day_x.append(s + d - 1)
            day_t.append(str(d))
p.segment(x0=day_x, y0=[1177] * len(day_x), x1=day_x, y1=[1183] * len(day_x), line_color="#1a1a1a", line_width=1)
p.text(day_x, [1190] * len(day_x), text=day_t, text_font=SERIF, text_font_size="13px",
       text_color="#1a1a1a", text_align="center", text_baseline="middle")
mcx = [s + L / 2 for s, L in zip(starts, MONTH_DAYS)]
p.text(mcx, [1211] * len(mcx), text=[str(m) for m in MONTHS], text_font=SERIF, text_font_size="12px",
       text_color="#1a1a1a", text_align="center", text_baseline="middle")
p.text(YEAR_POS, [1233, 1233], text=YEAR_LABELS, text_font=SERIF, text_font_size="12px",
       text_color="#1a1a1a", text_align="center", text_baseline="middle")

# ---- label column
def jtext(xpx, ypx, txt, size, color, align="center"):
    p.text([dx(xpx)], [ypx], text=[txt], text_font=JP, text_font_size=size, text_color=color,
           text_align=align, text_baseline="middle")

jtext(909, 32, "孔内水位変動図", "21px", "#1a1a1a")
jtext(88, 439, "孔\u3000内\u3000水\u3000位", "19px", "#222222")
jtext(98, 479, "(標高)", "16px", "#222222")
for i, ch in enumerate("NKK合計揚水量"):
    jtext(32, 830 + i * 20.3, ch, "20px", "#c8304e")
jtext(76, 970, "(㎥/日)", "12px", "#c8304e")
for i, ch in enumerate("周辺井戸揚水量"):
    jtext(144, 833 + i * 23, ch, "21px", "#222222")
jtext(190, 970, "(㎥/日)", "12px", "#222222")
for i, ch in enumerate("降水量・気象庁"):
    jtext(32, 1011 + i * 22.5, ch, "20px", "#1f3f8f")
jtext(28, 1165, "( mm)", "10px", "#1f3f8f")
for i, ch in enumerate("積雪量・気象庁"):
    jtext(143, 1011 + i * 22.5, ch, "20px", "#c0709a")
jtext(141, 1165, "( c m)", "10px", "#c0709a")
jtext(122, 1188, "日", "14px", "#1a1a1a")
jtext(122, 1210, "月", "14px", "#1a1a1a")
jtext(122, 1232, "年", "14px", "#1a1a1a")

open("out.html", "w").write(file_html(p, INLINE))
